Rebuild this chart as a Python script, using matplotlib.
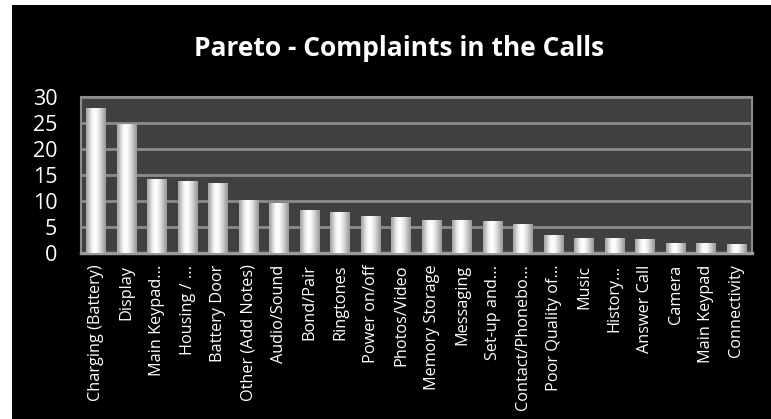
import numpy as np
import matplotlib
matplotlib.use("Agg")
import matplotlib.pyplot as plt
from matplotlib.patches import Rectangle

# Dados do gráfico
categorias = ["Charging (Battery)", "Display", "Main Keypad...", "Housing / ...",
              "Battery Door", "Other (Add Notes)", "Audio/Sound", "Bond/Pair",
              "Ringtones", "Power on/off", "Photos/Video", "Memory Storage",
              "Messaging", "Set-up and...", "Contact/Phonebo...", "Poor Quality of...",
              "Music", "History...", "Answer Call", "Camera", "Main Keypad",
              "Connectivity"]
reclamacoes = [27.8, 24.9, 14.3, 13.9, 13.5, 10.3, 9.7, 8.3, 7.9, 7.2, 7.0,
               6.4, 6.4, 6.2, 5.6, 3.5, 2.9, 2.9, 2.8, 2.0, 2.0, 1.8]
y_ticks = [0, 5, 10, 15, 20, 25, 30]
titulo = "Pareto - Complaints in the Calls"

plt.rcParams['font.family'] = ['Open Sans', 'DejaVu Sans']

fig = plt.figure(figsize=(7.71, 4.19), dpi=100, facecolor="white")
# fundo preto com margem branca à esquerda e no topo
fig.patches.append(Rectangle((12 / 771, 0), 1, 1 - 5 / 419, transform=fig.transFigure,
                             facecolor="black", edgecolor="none", zorder=-10))

ax = fig.add_axes([0.105, 0.395, 0.87, 0.3735])
ax.set_facecolor("#404040")

x = np.arange(len(categorias))
largura = 0.65
barras = ax.bar(x, reclamacoes, width=largura, color="#d8d8d8", edgecolor="none", zorder=3)

# gradiente horizontal para dar o efeito de cilindro
perfil = np.array([0.66, 0.76, 0.88, 0.96, 1.0, 0.99, 0.94, 0.87, 0.79, 0.70, 0.62])
grad = np.tile(perfil, (2, 1))
for b in barras:
    im = ax.imshow(grad, cmap="gray", vmin=0, vmax=1, aspect="auto",
                   extent=[b.get_x(), b.get_x() + b.get_width(), 0, b.get_height()],
                   interpolation="bicubic", zorder=4)
    im.set_clip_path(b)

ax.set_xlim(-0.5, len(categorias) - 0.5)
ax.set_ylim(0, 30)
ax.set_yticks(y_ticks)
ax.yaxis.grid(True, color="#8c8c8c", linewidth=2, zorder=1)
ax.set_axisbelow(True)

for lado in ["top", "right", "left"]:
    ax.spines[lado].set_color("#8c8c8c")
    ax.spines[lado].set_linewidth(1.5)
ax.spines["bottom"].set_color("#9a9a9a")
ax.spines["bottom"].set_linewidth(2.5)

ax.set_xticks(x)
ax.set_xticklabels(categorias, rotation=90, color="white", fontsize=11.7)
ax.tick_params(axis="x", length=0, pad=8)
ax.tick_params(axis="y", length=0, pad=17, colors="white", labelsize=15.5)

fig.text(0.518, 0.885, titulo, ha="center", va="center", color="white",
         fontsize=19, fontweight="bold")

plt.savefig("out.png", dpi=100, facecolor=fig.get_facecolor())
